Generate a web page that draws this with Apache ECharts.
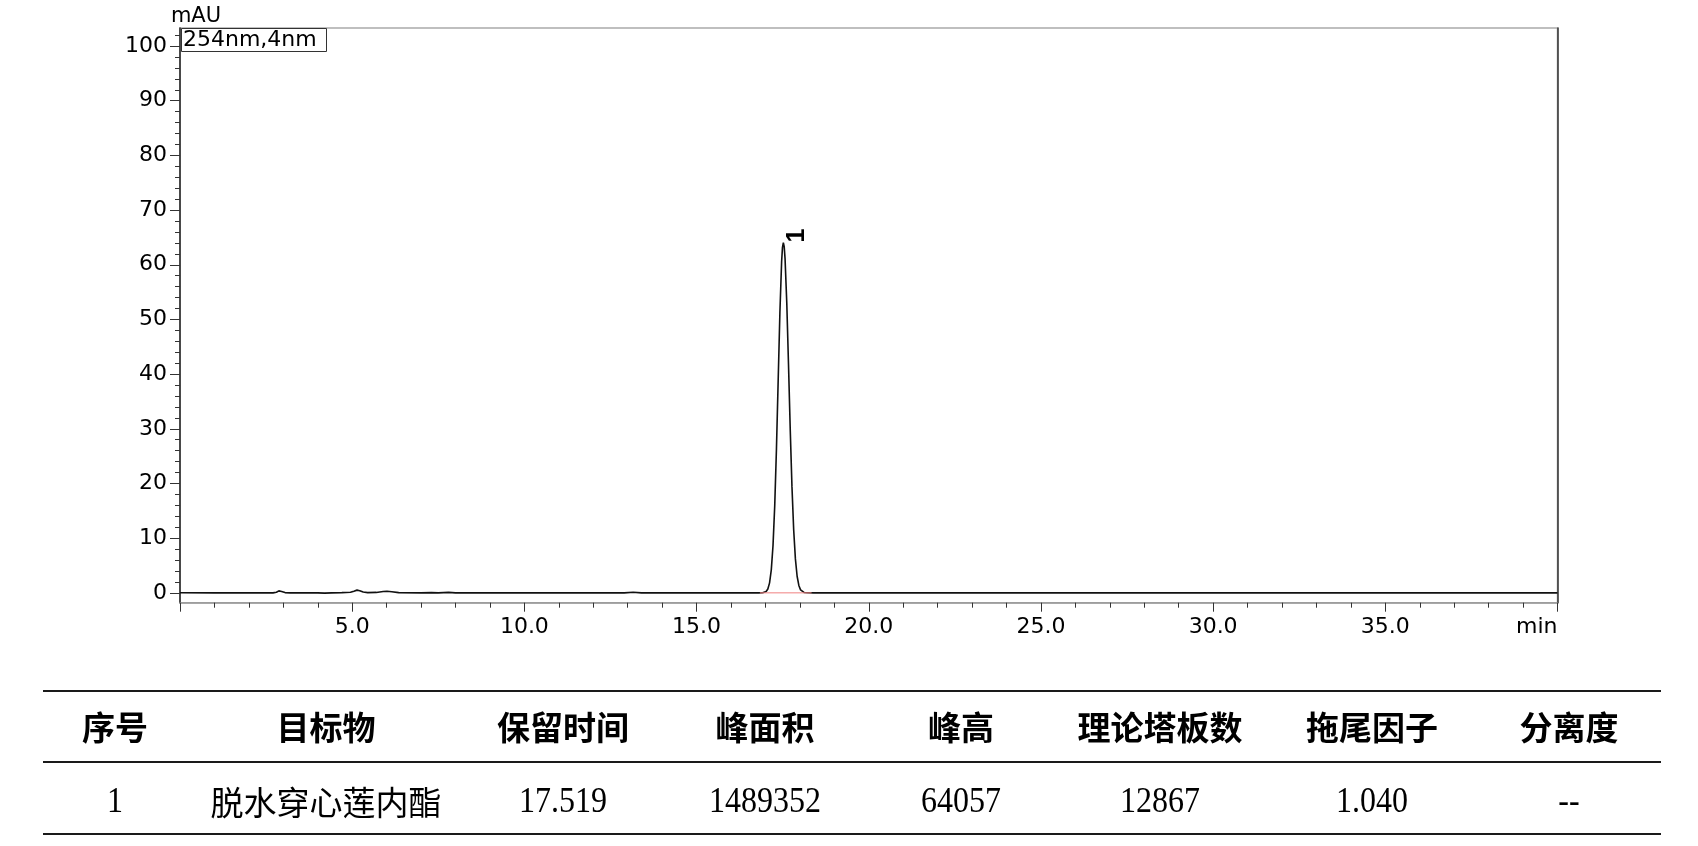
<!DOCTYPE html>
<html>
<head>
<meta charset="utf-8">
<script src="https://cdn.jsdelivr.net/npm/echarts@6/dist/echarts.min.js"></script>
<style>
html,body{margin:0;padding:0;background:#fff;}
#chart{width:1698px;height:846px;}
</style>
</head>
<body>
<div id="chart"></div>
<script>
// ---- chromatogram data (time in min, signal in mAU) ----
var times = [0.0, 1.0, 2.0, 2.7, 2.8, 2.87, 2.95, 3.05, 3.2, 4.0, 4.2, 4.4, 4.7, 4.95, 5.05, 5.14, 5.22, 5.32, 5.45, 5.7, 5.9, 6.01, 6.15, 6.35, 7.0, 7.3, 7.5, 7.8, 8.0, 9.0, 10.0, 11.0, 12.0, 12.9, 13.16, 13.4, 14.0, 15.0, 16.0, 16.6, 16.8,
  16.92, 16.97, 17.02, 17.07, 17.12, 17.17, 17.22, 17.27, 17.32, 17.37, 17.42, 17.47, 17.495, 17.52, 17.545, 17.57, 17.62, 17.67, 17.72, 17.77, 17.82, 17.87, 17.92, 17.97, 18.02, 18.07, 18.12, 18.22, 18.4,
  19.0, 20.0, 22.0, 25.0, 28.0, 30.0, 33.0, 35.0, 38.0, 40.0];
var signal = [0.02, 0.0, 0.0, 0.0, 0.12, 0.36, 0.25, 0.05, 0.0, 0.0, -0.05, 0.0, 0.05, 0.1, 0.3, 0.5, 0.4, 0.15, 0.05, 0.08, 0.25, 0.3, 0.2, 0.05, 0.0, 0.05, 0.0, 0.08, 0.0, 0.0, 0.0, 0.0, 0.0, 0.0, 0.12, 0.0, 0.0, 0.0, 0.0, 0.0, 0.0,
  0.02, 0.08, 0.25, 0.71, 1.83, 4.21, 8.67, 15.98, 26.34, 38.86, 51.29, 60.60, 63.18, 64.06, 63.30, 61.08, 52.95, 41.73, 29.90, 19.47, 11.53, 6.21, 3.04, 1.35, 0.55, 0.20, 0.07, 0.01, 0.0,
  0.0, 0.0, 0.0, 0.0, 0.0, 0.0, 0.0, 0.0, 0.0, 0.0];
// integration baseline (red) start / end
var baselineTimes = [16.84, 18.34];
var baselineValues = [0, 0];
// peak annotations
var peakNames = ['1'];
var peakTimes = [17.519];
var peakHeights = [64.057];

// ---- axis ticks ----
var xTickValues = [0, 5, 10, 15, 20, 25, 30, 35, 40];
var xTickLabels = ['', '5.0', '10.0', '15.0', '20.0', '25.0', '30.0', '35.0', 'min'];
var yTickValues = [0, 10, 20, 30, 40, 50, 60, 70, 80, 90, 100];
var yTickLabels = ['0', '10', '20', '30', '40', '50', '60', '70', '80', '90', '100'];
var yMinorTickValues = [2, 4, 6, 8, 12, 14, 16, 18, 22, 24, 26, 28, 32, 34, 36, 38, 42, 44, 46, 48, 52, 54, 56, 58, 62, 64, 66, 68, 72, 74, 76, 78, 82, 84, 86, 88, 92, 94, 96, 98, 102];
var channelLabel = '254nm,4nm';
var yUnit = 'mAU';

// ---- result table ----
var tableHeaders = ['序号', '目标物', '保留时间', '峰面积', '峰高', '理论塔板数', '拖尾因子', '分离度'];
var tableRow = ['1', '脱水穿心莲内酯', '17.519', '1489352', '64057', '12867', '1.040', '--'];

// ---- build ----
var lineData = times.map(function (t, i) { return [t, signal[i]]; });
var baseData = baselineTimes.map(function (t, i) { return [t, baselineValues[i]]; });
var peakMarks = peakNames.map(function (n, i) { return { name: n, coord: [peakTimes[i], peakHeights[i]], value: n }; });

var FONT = 'DejaVu Sans';
var colCenters = [115, 326, 563, 765, 961, 1160, 1372, 1569];
var graphics = [];
// channel box
graphics.push({ type: 'rect', shape: { x: 181.5, y: 28.5, width: 145, height: 23 }, style: { fill: '#fff', stroke: '#333', lineWidth: 1 }, z: 100 });
graphics.push({ type: 'text', x: 183, y: 40.5, style: { text: channelLabel, fontSize: 22, fontFamily: FONT, fill: '#000', align: 'left', verticalAlign: 'middle' }, z: 101 });
// table lines
[691, 762, 834].forEach(function (y) {
  graphics.push({ type: 'line', shape: { x1: 43, y1: y, x2: 1661, y2: y }, style: { stroke: '#1a1a1a', lineWidth: 2 } });
});
tableHeaders.forEach(function (h, i) {
  graphics.push({ type: 'text', x: colCenters[i], y: 727, style: { text: h, fontSize: 33, fontFamily: 'Noto Sans CJK SC', fontWeight: 'bold', fill: '#000', align: 'center', verticalAlign: 'middle' } });
});
tableRow.forEach(function (c, i) {
  var isCJK = /[\u4e00-\u9fff]/.test(c);
  graphics.push({ type: 'text', x: colCenters[i], y: 802, scaleY: isCJK ? 1 : 1.15,
    style: { text: c, fontSize: isCJK ? 33 : 32, fontFamily: isCJK ? 'Noto Sans CJK SC' : 'Liberation Serif', fill: '#000', align: 'center', verticalAlign: 'middle' } });
});

var chart = echarts.init(document.getElementById('chart'), null, { renderer: 'canvas' });
chart.setOption({
  animation: false,
  backgroundColor: '#fff',
  grid: { left: 180, right: 140.5, top: 28, bottom: 243.3, show: true, borderColor: '#aaa', borderWidth: 1.5 },
  xAxis: {
    type: 'value', min: 0, max: 40, interval: 5,
    axisLine: { show: true, onZero: false, lineStyle: { color: '#999', width: 1.5 } },
    axisTick: { show: true, length: 9, lineStyle: { color: '#333', width: 1 } },
    minorTick: { show: true, splitNumber: 5, length: 5, lineStyle: { color: '#333', width: 1 } },
    axisLabel: {
      show: true, margin: 14, color: '#000', fontSize: 22, fontFamily: FONT,
      showMaxLabel: true, showMinLabel: true, alignMaxLabel: 'right',
      formatter: function (v) { var k = xTickValues.indexOf(v); return k >= 0 ? xTickLabels[k] : ''; }
    },
    splitLine: { show: false }
  },
  yAxis: [
    {
      type: 'value', min: -1.8, max: 103.3, position: 'left',
      name: yUnit, nameLocation: 'end', nameGap: 1,
      nameTextStyle: { color: '#000', fontSize: 21, fontFamily: FONT, align: 'center', padding: [0, 0, 0, 32] },
      axisLine: { show: true, onZero: false, lineStyle: { color: '#222', width: 1.5 } },
      axisTick: { show: true, length: 10, customValues: yTickValues, lineStyle: { color: '#333', width: 1 } },
      axisLabel: { show: true, margin: 13, customValues: yTickValues, color: '#000', fontSize: 22, fontFamily: FONT,
        formatter: function (v) { var k = yTickValues.indexOf(v); return k >= 0 ? yTickLabels[k] : ''; } },
      splitLine: { show: false }
    },
    {
      type: 'value', min: -1.8, max: 103.3, position: 'left',
      axisLine: { show: false },
      axisTick: { show: true, length: 5, customValues: yMinorTickValues, lineStyle: { color: '#333', width: 1 } },
      axisLabel: { show: false },
      splitLine: { show: false }
    },
    {
      type: 'value', min: -1.8, max: 103.3, position: 'right',
      axisLine: { show: true, onZero: false, lineStyle: { color: '#333', width: 1.5 } },
      axisTick: { show: false }, axisLabel: { show: false }, splitLine: { show: false }
    }
  ],
  series: [
    {
      type: 'line', data: lineData, showSymbol: false, symbol: 'none', yAxisIndex: 0,
      lineStyle: { color: '#111', width: 1.6 }, z: 3,
      markPoint: {
        symbol: 'circle', symbolSize: 0, data: peakMarks,
        label: { show: true, formatter: '{b}', position: 'inside', offset: [7, 14], rotate: 90, color: '#000', fontSize: 25, fontWeight: 'bold', fontFamily: 'Liberation Sans' }
      }
    },
    {
      type: 'line', data: baseData, showSymbol: false, symbol: 'none', yAxisIndex: 0,
      lineStyle: { color: '#f08080', width: 1 }, z: 4
    }
  ],
  graphic: graphics
});
</script>
</body>
</html>
